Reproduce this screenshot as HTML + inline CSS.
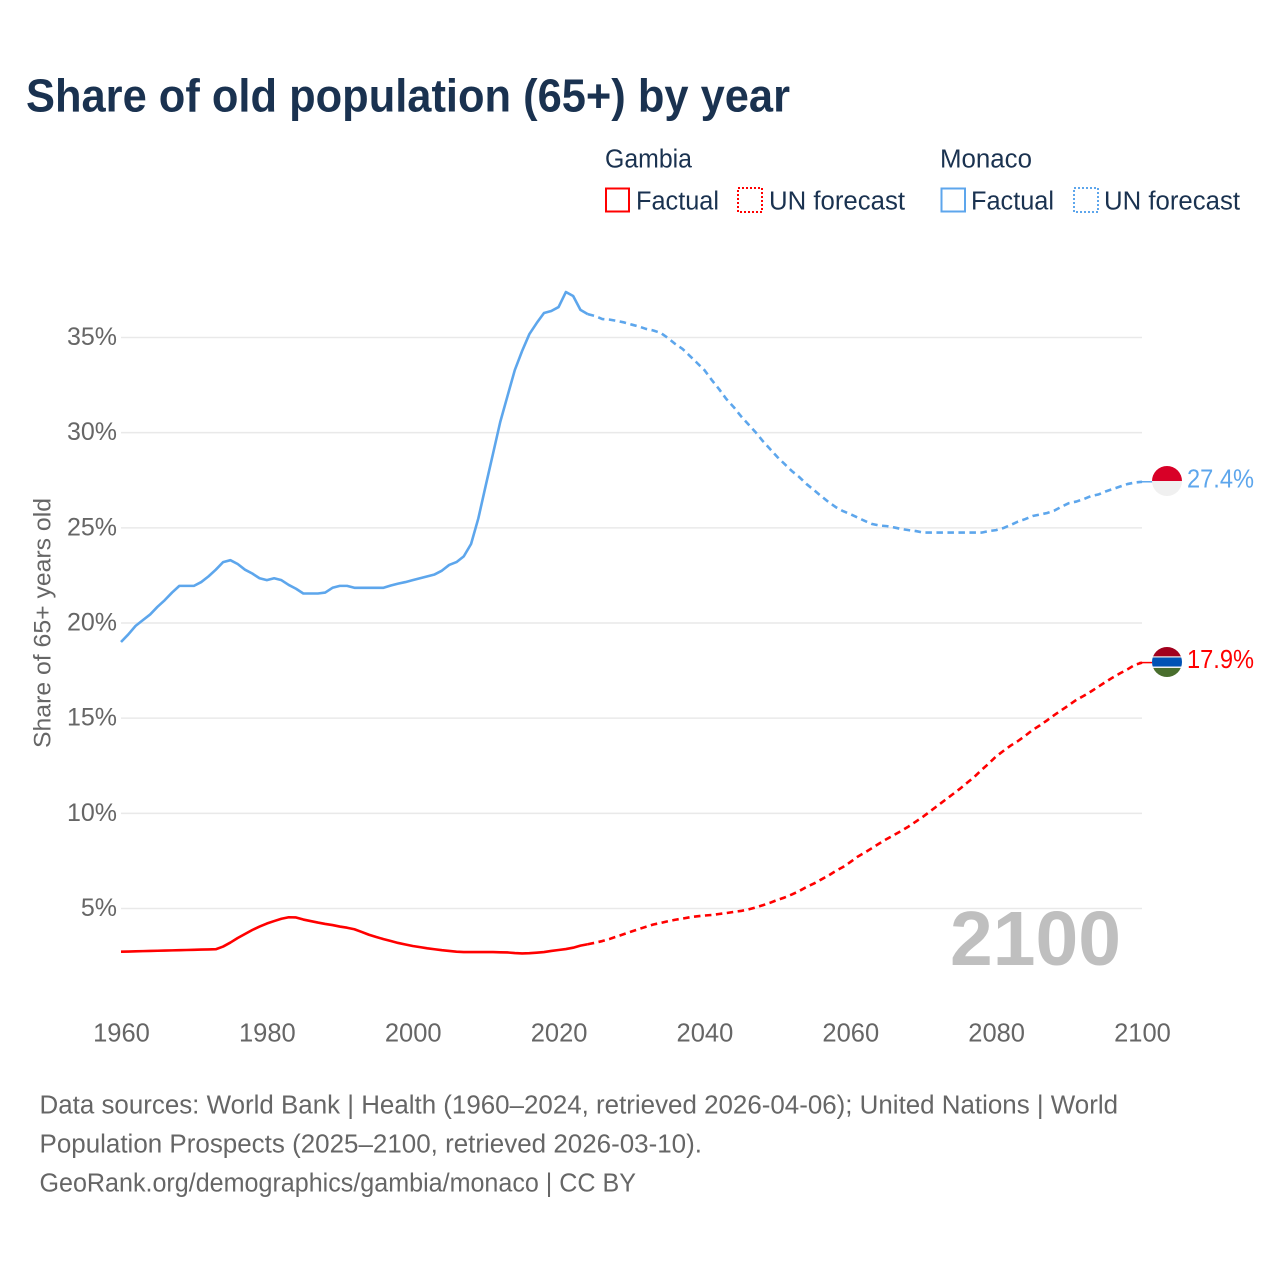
<!DOCTYPE html>
<html lang="en">
<head>
<meta charset="utf-8">
<title>Share of old population (65+) by year</title>
<style>
html,body{margin:0;padding:0;background:#fff;width:1280px;height:1280px;overflow:hidden}
svg{display:block;font-family:"Liberation Sans",sans-serif}
</style>
</head>
<body>
<svg id="chart" xmlns="http://www.w3.org/2000/svg" width="1280" height="1280" viewBox="0 0 1280 1280">
  <rect x="0" y="0" width="1280" height="1280" fill="#fff"/>
  <text x="26" y="111.5" font-size="46" font-weight="700" fill="#1a3250" textLength="764" lengthAdjust="spacingAndGlyphs">Share of old population (65+) by year</text>

  <g font-size="25.5" fill="#1a3250">
    <text x="605" y="167.5" textLength="87" lengthAdjust="spacingAndGlyphs">Gambia</text>
    <text x="940" y="167.5" textLength="92" lengthAdjust="spacingAndGlyphs">Monaco</text>
    <rect x="606" y="188.5" width="23" height="23" fill="none" stroke="#ff0000" stroke-width="2"/>
    <text x="636" y="209.5" textLength="83" lengthAdjust="spacingAndGlyphs">Factual</text>
    <rect x="738" y="188" width="24" height="24" fill="none" stroke="#ff0000" stroke-width="2" stroke-dasharray="2 2" shape-rendering="crispEdges"/>
    <text x="769" y="209.5" textLength="136" lengthAdjust="spacingAndGlyphs">UN forecast</text>
    <rect x="941.5" y="188.5" width="23.5" height="23" fill="none" stroke="#5da6ec" stroke-width="2"/>
    <text x="971" y="209.5" textLength="83" lengthAdjust="spacingAndGlyphs">Factual</text>
    <rect x="1074" y="188" width="24" height="24" fill="none" stroke="#5da6ec" stroke-width="2" stroke-dasharray="2 2" shape-rendering="crispEdges"/>
    <text x="1104" y="209.5" textLength="136" lengthAdjust="spacingAndGlyphs">UN forecast</text>
  </g>

  <g id="grid"></g>
  <g id="yticks" font-size="25" fill="#666" text-anchor="end"></g>
  <g id="xticks" font-size="25.5" fill="#666" text-anchor="middle"></g>
  <text transform="translate(50.5,748) rotate(-90)" font-size="24" fill="#666" textLength="250" lengthAdjust="spacingAndGlyphs">Share of 65+ years old</text>

  <text x="950" y="965" font-size="77" font-weight="700" fill="#bfbfbf" textLength="171" lengthAdjust="spacingAndGlyphs">2100</text>

  <g id="series"></g>

  <defs>
    <clipPath id="flag-clip-monaco"><circle cx="1167" cy="481" r="15"/></clipPath>
    <clipPath id="flag-clip-gambia"><circle cx="1167" cy="662" r="15"/></clipPath>
  </defs>
  <g clip-path="url(#flag-clip-monaco)">
    <rect x="1152" y="466" width="30" height="15" fill="#d80027"/>
    <rect x="1152" y="481" width="30" height="15" fill="#f0f0f0"/>
  </g>
  <g clip-path="url(#flag-clip-gambia)">
    <rect x="1152" y="647" width="30" height="30" fill="#f0f0f0"/>
    <rect x="1152" y="647" width="30" height="9.3" fill="#a2001d"/>
    <rect x="1152" y="657.5" width="30" height="9" fill="#0052b4"/>
    <rect x="1152" y="668" width="30" height="9" fill="#496e2d"/>
  </g>
  <g id="endlabels" font-size="25.5"></g>

  <g font-size="25.5" fill="#666">
    <text x="39.5" y="1113.5" textLength="1078.5" lengthAdjust="spacingAndGlyphs">Data sources: World Bank | Health (1960–2024, retrieved 2026-04-06); United Nations | World</text>
    <text x="39.5" y="1152.5" textLength="662.5" lengthAdjust="spacingAndGlyphs">Population Prospects (2025–2100, retrieved 2026-03-10).</text>
    <text x="39.5" y="1191.5" textLength="596.5" lengthAdjust="spacingAndGlyphs">GeoRank.org/demographics/gambia/monaco | CC BY</text>
  </g>
</svg>
<script>
const xTickYears = [1960,1980,2000,2020,2040,2060,2080,2100];
const yTickValues = [5,10,15,20,25,30,35];
const factualStartYear = 1960;
const forecastStartYear = 2024;
const monacoFactual = [
19.0,19.4,19.85,20.15,20.45,20.85,21.2,21.6,21.95,21.95,
21.95,22.15,22.45,22.8,23.2,23.3,23.1,22.8,22.6,22.35,
22.25,22.35,22.25,22.0,21.8,21.55,21.55,21.55,21.6,21.85,
21.95,21.95,21.85,21.85,21.85,21.85,21.85,21.97,22.07,22.15,
22.25,22.35,22.45,22.55,22.75,23.05,23.2,23.5,24.15,25.5,
27.2,28.88,30.56,31.93,33.29,34.29,35.18,35.76,36.29,36.39,
36.6,37.39,37.18,36.45,36.23];
const monacoForecast = [
36.23,36.13,35.97,35.94,35.87,35.79,
35.68,35.58,35.45,35.37,35.24,34.97,34.66,34.4,34.03,33.66,
33.29,32.77,32.29,31.77,31.35,30.87,30.45,30.03,29.56,29.14,
28.72,28.35,27.98,27.67,27.3,26.99,26.67,26.36,26.09,25.88,
25.72,25.54,25.36,25.2,25.12,25.09,25.02,24.94,24.88,24.83,
24.75,24.75,24.75,24.75,24.75,24.75,24.75,24.75,24.75,24.83,
24.88,24.99,25.15,25.33,25.46,25.62,25.7,25.78,25.91,26.12,
26.3,26.38,26.51,26.67,26.75,26.91,27.04,27.17,27.3,27.38,27.42];
const gambiaFactual = [
2.73,2.74,2.75,2.76,2.77,2.78,2.79,2.8,2.81,2.82,
2.83,2.84,2.85,2.86,3.0,3.21,3.45,3.66,3.87,4.05,
4.21,4.34,4.46,4.54,4.53,4.42,4.34,4.26,4.19,4.13,
4.05,3.99,3.91,3.77,3.62,3.5,3.39,3.29,3.19,3.11,
3.03,2.97,2.91,2.86,2.81,2.77,2.73,2.71,2.71,2.71,
2.71,2.71,2.7,2.69,2.66,2.64,2.65,2.68,2.71,2.77,
2.82,2.87,2.94,3.05,3.12];
const gambiaForecast = [
3.12,3.2,3.29,3.4,3.53,3.66,
3.79,3.92,4.04,4.16,4.24,4.33,4.41,4.47,4.54,4.59,
4.63,4.66,4.71,4.76,4.82,4.87,4.95,5.05,5.17,5.3,
5.45,5.58,5.74,5.92,6.13,6.31,6.52,6.73,6.97,7.18,
7.44,7.72,7.94,8.18,8.42,8.65,8.86,9.08,9.31,9.57,
9.83,10.12,10.41,10.7,10.99,11.28,11.6,11.91,12.28,12.62,
12.99,13.28,13.56,13.8,14.08,14.38,14.62,14.89,15.17,15.43,
15.69,15.96,16.17,16.4,16.65,16.9,17.14,17.36,17.56,17.8,17.92];

const NS = 'http://www.w3.org/2000/svg';
const RED = '#ff0000';
const BLUE = '#5da6ec';
function xScale(year){ return 121 + (year - 1960) * (1142 - 121) / 140; }
function yScale(v){ return 908.5 - (v - 5) * (908.5 - 337.5) / 30; }
function make(tag, parent){
  const el = document.createElementNS(NS, tag);
  parent.appendChild(el);
  return el;
}

const grid = document.getElementById('grid');
const yticks = document.getElementById('yticks');
yTickValues.forEach(function(v){
  const l = make('line', grid);
  
  
  l.setAttribute('x1', xScale(1960));
  l.setAttribute('x2', xScale(2100));
  l.setAttribute('y1', yScale(v));
  l.setAttribute('y2', yScale(v));
  l.setAttribute('stroke', '#e9e9e9');
  l.setAttribute('stroke-width', '1.5');
  const t = make('text', yticks);
  
  
  t.setAttribute('x', 117);
  t.setAttribute('y', yScale(v) + 7.5);
  t.textContent = v + '%';
});

const xticks = document.getElementById('xticks');
xTickYears.forEach(function(yr){
  const t = make('text', xticks);
  
  
  t.setAttribute('x', xScale(yr) + 0.5);
  t.setAttribute('y', 1041.5);
  t.textContent = yr;
});

const seriesGroup = document.getElementById('series');
function pathFrom(values, startYear){
  return values.map(function(v, i){
    return (i ? 'L' : 'M') + xScale(startYear + i).toFixed(2) + ' ' + yScale(v).toFixed(2);
  }).join('');
}
function drawLine(name, values, startYear, color, dash){
  const p = make('path', seriesGroup);
  
  
  p.setAttribute('d', pathFrom(values, startYear));
  p.setAttribute('fill', 'none');
  p.setAttribute('stroke', color);
  p.setAttribute('stroke-width', '2.6');
  p.setAttribute('stroke-linejoin', 'round');
  if (dash) p.setAttribute('stroke-dasharray', dash);
}
drawLine('line-monaco-factual', monacoFactual, factualStartYear, BLUE, null);
drawLine('line-monaco-forecast', monacoForecast, forecastStartYear, BLUE, '6.5 4.5');
drawLine('line-gambia-factual', gambiaFactual, factualStartYear, RED, null);
drawLine('line-gambia-forecast', gambiaForecast, forecastStartYear, RED, '6.5 4.5');

const endlabels = document.getElementById('endlabels');
function drawEnd(name, values, color){
  const last = values[values.length - 1];
  const c = make('line', seriesGroup);
  
  
  c.setAttribute('x1', xScale(2100) - 3);
  c.setAttribute('x2', 1153);
  c.setAttribute('y1', yScale(last));
  c.setAttribute('y2', yScale(last));
  c.setAttribute('stroke', color);
  c.setAttribute('stroke-width', '1.5');
  const t = make('text', endlabels);
  
  
  t.setAttribute('x', 1187);
  t.setAttribute('y', yScale(last) + 5.5);
  t.setAttribute('fill', color);
  t.setAttribute('textLength', '67');
  t.setAttribute('lengthAdjust', 'spacingAndGlyphs');
  t.textContent = last.toFixed(1) + '%';
}
drawEnd('monaco', monacoForecast, BLUE);
drawEnd('gambia', gambiaForecast, RED);
</script>
</body>
</html>
